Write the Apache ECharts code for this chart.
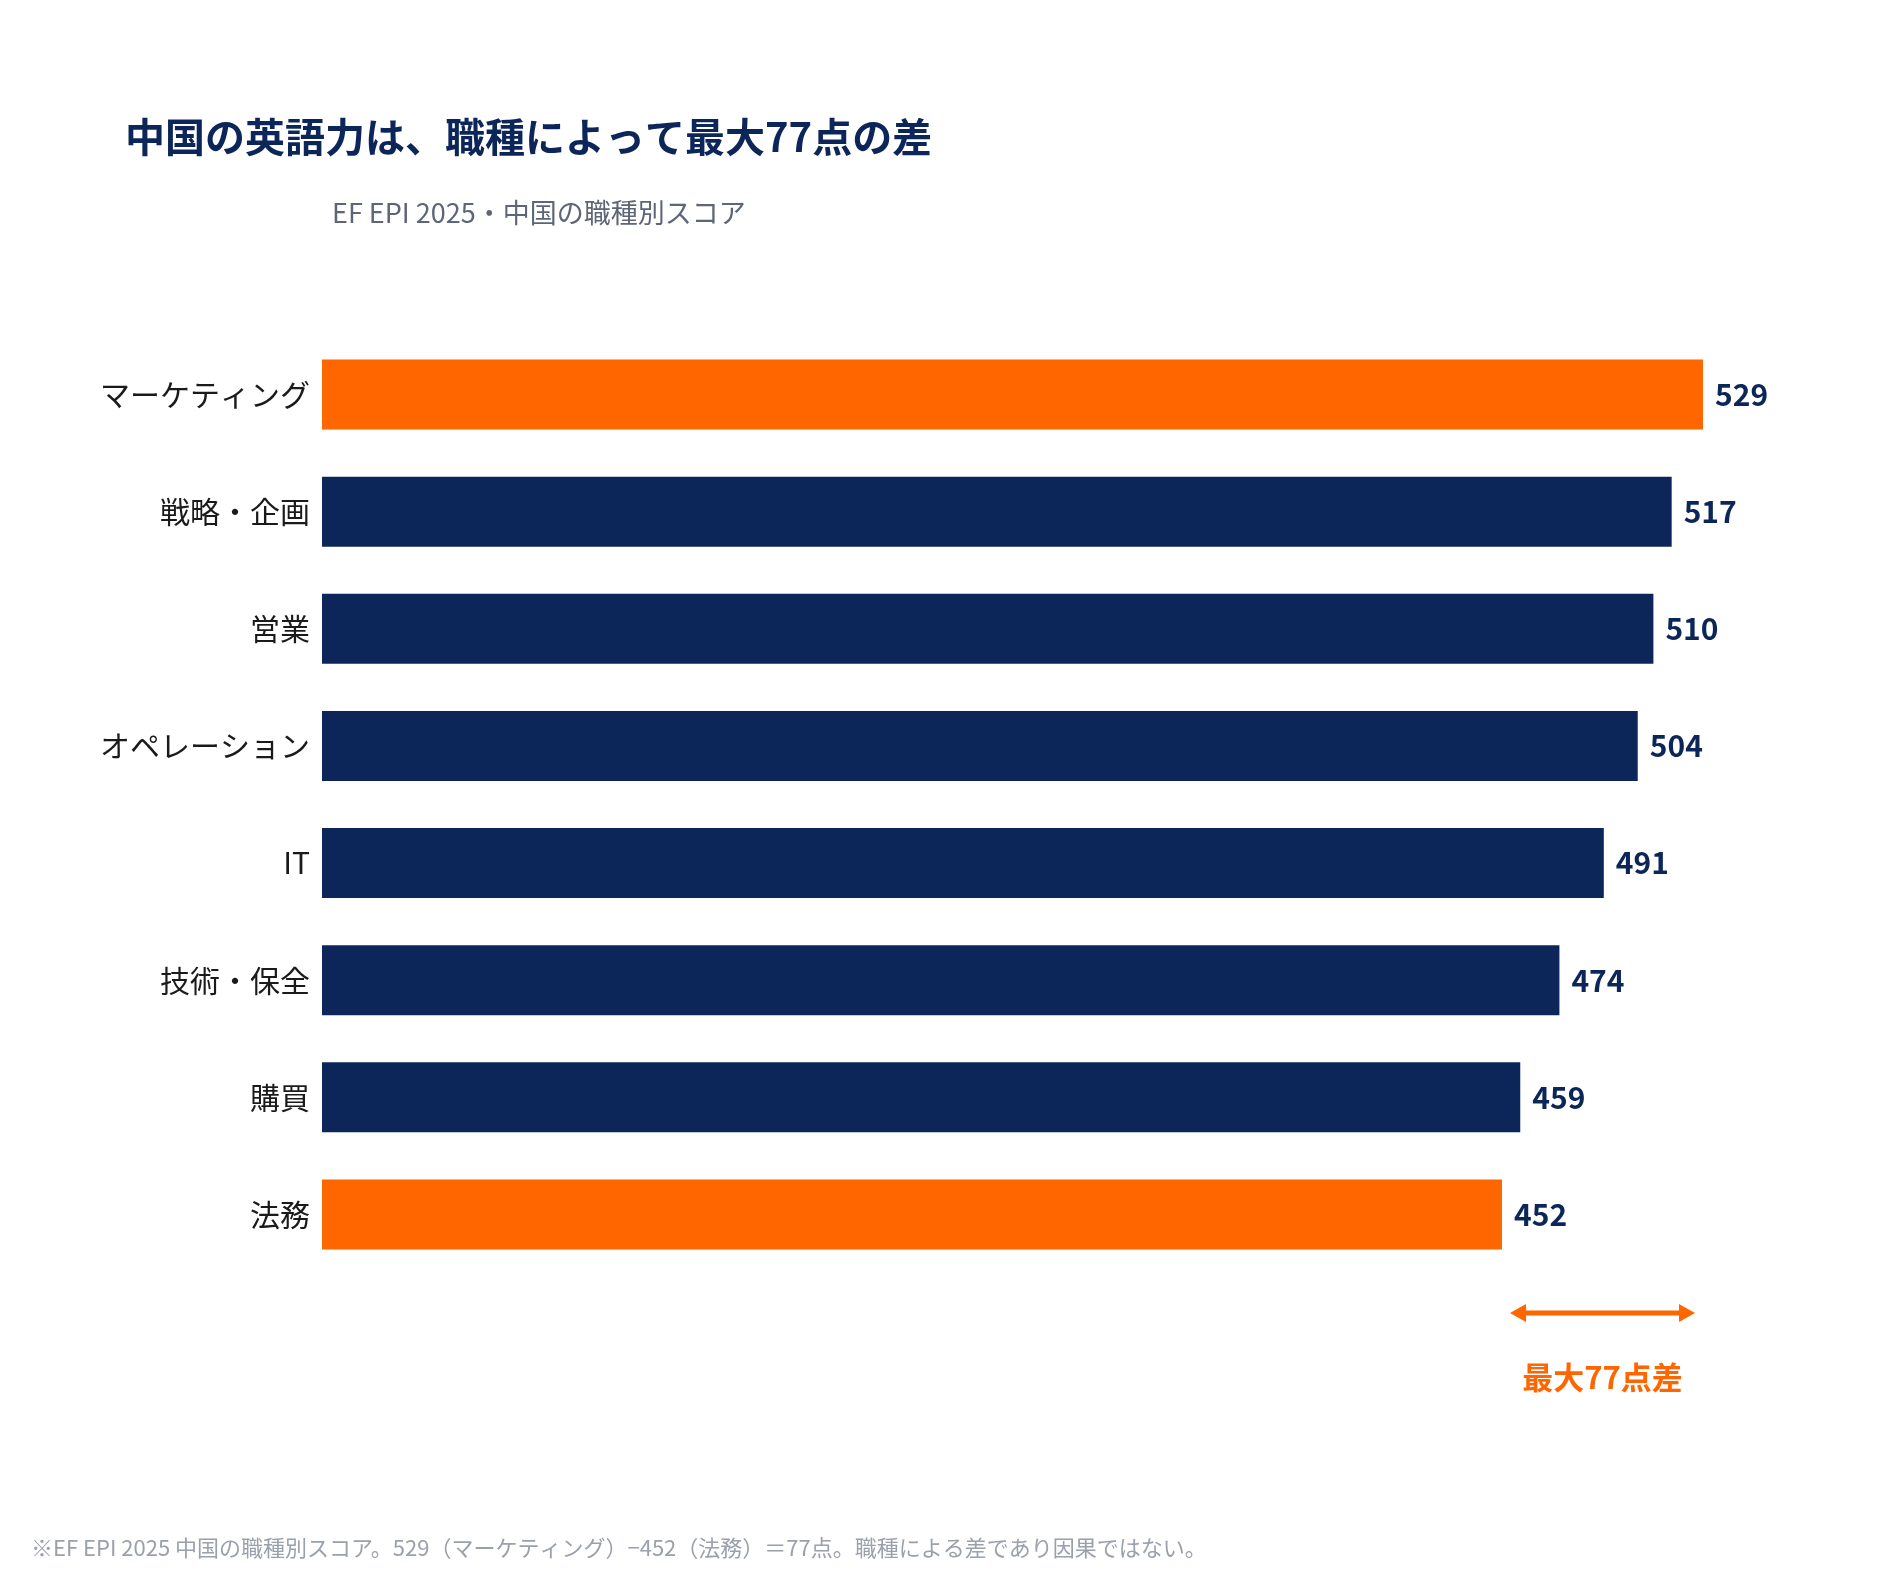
<!DOCTYPE html>
<html><head><meta charset="utf-8">
<script src="https://cdn.jsdelivr.net/npm/echarts@6/dist/echarts.min.js"></script>
<style>html,body{margin:0;padding:0;background:#fff}#c{width:1880px;height:1572px}</style>
</head><body><div id="c"></div>
<script>
const categories = ['マーケティング','戦略・企画','営業','オペレーション','IT','技術・保全','購買','法務'];
const scores = [529,517,510,504,491,474,459,452];
const highlight = ['マーケティング','法務'];
const title = '中国の英語力は、職種によって最大77点の差';
const subtitle = 'EF EPI 2025・中国の職種別スコア';
const gapLabel = '最大77点差';
const footnote = '※EF EPI 2025 中国の職種別スコア。529（マーケティング）−452（法務）＝77点。職種による差であり因果ではない。';
const ORANGE = '#ff6600', NAVY = '#0c2659';
const FONT = '"Noto Sans CJK JP","Noto Sans",sans-serif';
const chart = echarts.init(document.getElementById('c'));
const opt = {
  backgroundColor:'#fff',
  textStyle:{fontFamily:FONT},
  title:[
    {text:title,left:120,top:112,textStyle:{fontFamily:FONT,fontSize:40,fontWeight:'bold',color:NAVY}},
    {text:subtitle,left:327,top:194,textStyle:{fontFamily:FONT,fontSize:27,fontWeight:'normal',color:'#5d6577'}},
    {text:footnote,left:26,top:1532,textStyle:{fontFamily:FONT,fontSize:22,fontWeight:'normal',color:'#9aa0ac'}}
  ],
  grid:{left:322,right:177,top:336,bottom:299,containLabel:false},
  xAxis:{type:'value',min:0,max:529,show:false},
  yAxis:{type:'category',inverse:true,data:categories,axisLine:{show:false},axisTick:{show:false},
    axisLabel:{fontFamily:FONT,fontSize:30,color:'#1a1a1a',margin:12}},
  series:[{type:'bar',barWidth:70,data:scores.map((v,i)=>({value:v,itemStyle:{color:highlight.includes(categories[i])?ORANGE:NAVY}})),
    label:{show:true,position:'right',distance:12,fontFamily:FONT,fontSize:30,fontWeight:'bold',color:NAVY},
    animation:false}],
  animation:false
};
chart.setOption(opt);
const x1 = chart.convertToPixel({gridIndex:0},[Math.min(...scores),0])[0]+8;
const x2 = chart.convertToPixel({gridIndex:0},[Math.max(...scores),0])[0]-8;
const y = 1313;
chart.setOption({graphic:[
  {type:'line',shape:{x1:x1+8,y1:y,x2:x2-8,y2:y},style:{stroke:ORANGE,lineWidth:5}},
  {type:'polygon',shape:{points:[[x1,y],[x1+16,y-9],[x1+16,y+9]]},style:{fill:ORANGE}},
  {type:'polygon',shape:{points:[[x2,y],[x2-16,y-9],[x2-16,y+9]]},style:{fill:ORANGE}},
  {type:'text',x:(x1+x2)/2,y:1377,style:{text:gapLabel,fill:ORANGE,font:'bold 31px '+FONT,textAlign:'center',textVerticalAlign:'middle'}}
]});
</script></body></html>
